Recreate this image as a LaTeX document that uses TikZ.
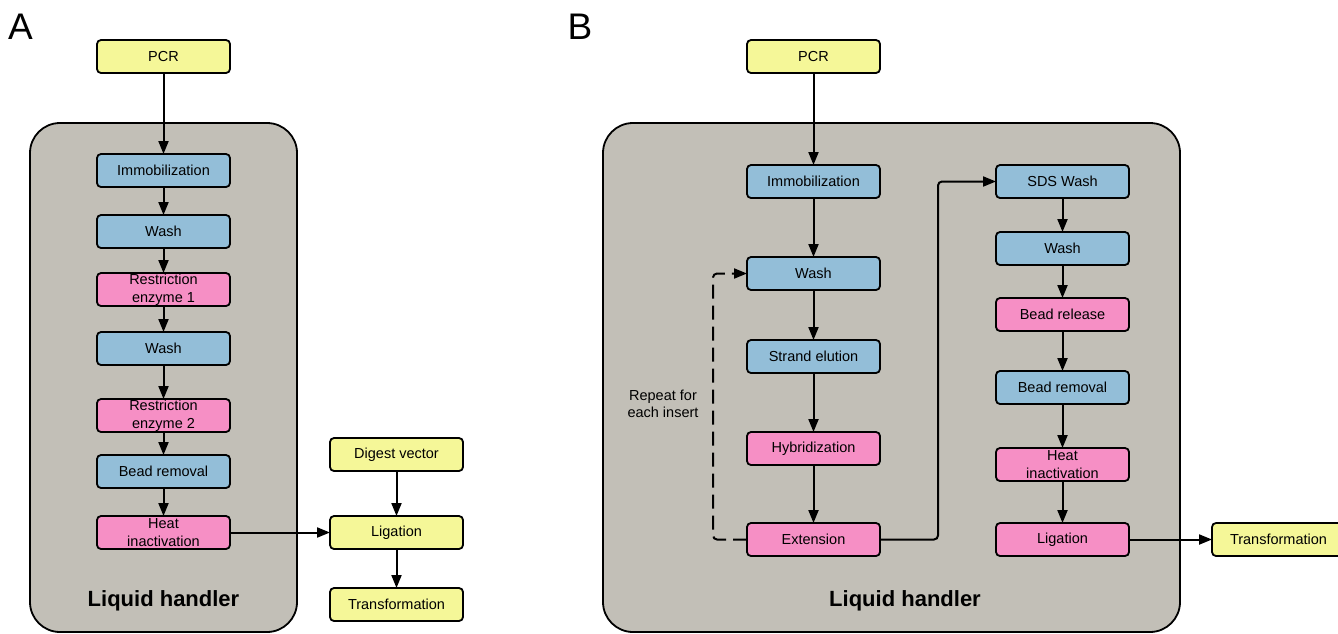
\documentclass[tikz,border=0pt]{standalone}
\usepackage{fontspec}
\setmainfont{Liberation Sans}
\usepackage{xcolor}
\usetikzlibrary{positioning,arrows.meta}
\definecolor{pcryellow}{RGB}{245,247,152}
\definecolor{washblue}{RGB}{147,190,216}
\definecolor{enzpink}{RGB}{246,143,197}
\definecolor{handlergray}{RGB}{194,191,183}

\begin{document}
\begin{tikzpicture}[x=1pt,y=1pt,>={Triangle[length=13pt,width=10pt]},line width=2pt,
	box/.style={draw,line width=1.8pt,rounded corners=4pt,minimum width=133pt,minimum height=33pt,inner sep=0pt,outer sep=0pt,align=center,font=\fontsize{14.5}{18}\selectfont},
	outside/.style={box,fill=pcryellow},
	beadstep/.style={box,fill=washblue},
	enzstep/.style={box,fill=enzpink},
	flow/.style={->,line width=2pt},
	handler/.style={draw,line width=1.8pt,fill=handlergray,rounded corners=30pt},
	handlerlabel/.style={anchor=base,font=\fontsize{22}{26}\selectfont\bfseries},
	panel/.style={font=\fontsize{37}{44}\selectfont}]
	\useasboundingbox (0,0) rectangle (1338,-633);

	% panel A
	\draw[handler] (30,-123) rectangle (297,-632);
	\node[panel] (labA) at (20.5,-26.5) {A};
	\node[handlerlabel] (lhA) at (163.5,-606) {Liquid handler};
	\node[outside] (pcrA) at (163.5,-56.5) {PCR};
	\node[beadstep] (immA) [below=81pt of pcrA] {Immobilization};
	\node[beadstep] (washA) [below=28pt of immA] {Wash};
	\node[enzstep] (reA) [below=25pt of washA] {Restriction\\enzyme 1};
	\node[beadstep] (washAA) [below=26pt of reA] {Wash};
	\node[enzstep] (reAA) [below=34pt of washAA] {Restriction\\enzyme 2};
	\node[beadstep] (remA) [below=23pt of reAA] {Bead removal};
	\node[enzstep] (heatA) [below=28pt of remA] {Heat\\inactivation};
	\node[outside] (ligA) [right=100pt of heatA] {Ligation};
	\node[outside] (digA) [above=45pt of ligA] {Digest vector};
	\node[outside] (transA) [below=39pt of ligA] {Transformation};

	\draw[flow] (pcrA) edge[flow] (immA)
		(immA) edge[flow] (washA)
		(washA) edge[flow] (reA)
		(reA) edge[flow] (washAA)
		(washAA) edge[flow] (reAA)
		(reAA) edge[flow] (remA)
		(remA) edge[flow] (heatA)
		(heatA) edge[flow] (ligA)
		(digA) edge[flow] (ligA)
		(ligA) edge[flow] (transA);

	% panel B
	\draw[handler] (603,-123) rectangle (1180,-632);
	\node[panel] (labB) at (580,-26.5) {B};
	\node[handlerlabel] (lhB) at (905,-606) {Liquid handler};
	\node[outside] (pcrB) at (813.5,-56.5) {PCR};
	\node[beadstep] (immB) [below=92pt of pcrB] {Immobilization};
	\node[beadstep] (washB) [below=59pt of immB] {Wash};
	\node[beadstep] (elutB) [below=50pt of washB] {Strand elution};
	\node[enzstep] (hybB) [below=59pt of elutB] {Hybridization};
	\node[enzstep] (extB) [below=58pt of hybB] {Extension};
	\node[beadstep] (sdsB) [right=116pt of immB] {SDS Wash};
	\node[beadstep] (washBB) [below=34pt of sdsB] {Wash};
	\node[enzstep] (relB) [below=33pt of washBB] {Bead release};
	\node[beadstep] (remB) [below=40pt of relB] {Bead removal};
	\node[enzstep] (heatB) [below=44pt of remB] {Heat\\inactivation};
	\node[enzstep] (ligB) [below=42pt of heatB] {Ligation};
	\node[outside] (transB) [right=83pt of ligB] {Transformation};
	\node[align=center,font=\fontsize{14.5}{17}\selectfont] (repB) at (663,-404) {Repeat for\\each insert};
	\coordinate (loopB) at (713,-539.5);
	\coordinate (bendB) at (938,-539.5);

	\draw[flow] (pcrB) edge[flow] (immB)
		(immB) edge[flow] (washB)
		(washB) edge[flow] (elutB)
		(elutB) edge[flow] (hybB)
		(hybB) edge[flow] (extB)
		(sdsB) edge[flow] (washBB)
		(washBB) edge[flow] (relB)
		(relB) edge[flow] (remB)
		(remB) edge[flow] (heatB)
		(heatB) edge[flow] (ligB)
		(ligB) edge[flow] (transB);
	\draw[flow,rounded corners=4pt] (extB.east) -- (bendB) |- (sdsB.west);
	\draw[flow,dash pattern=on 14pt off 7pt,rounded corners=4pt] (extB.west) -- (loopB) |- (washB.west);
\end{tikzpicture}
\end{document}
